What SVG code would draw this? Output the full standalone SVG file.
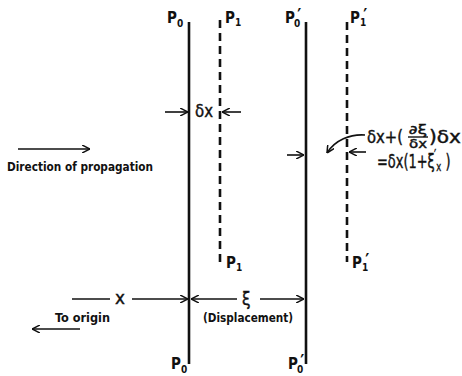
<svg xmlns="http://www.w3.org/2000/svg" width="462" height="376" viewBox="0 0 462 376">
<defs>
<marker id="ah" viewBox="0 0 10 10" refX="10" refY="5" markerWidth="8" markerHeight="8" orient="auto-start-reverse" markerUnits="userSpaceOnUse">
<path d="M0,0 L10,5 L0,10" fill="none" stroke="#111" stroke-width="1.9"/>
</marker>
</defs>
<style>
.solid{stroke:#111;stroke-width:2.6;fill:none}
.dash{stroke:#111;stroke-width:2.6;fill:none;stroke-dasharray:8 5}
.conn{stroke:#111;stroke-width:1.6;fill:none}
text{font-family:"DejaVu Sans Condensed","DejaVu Sans",sans-serif;fill:#111}
.lbl{font-size:15px;font-weight:bold}
.sub{font-size:10px;font-weight:bold}
.pr{font-size:17px;font-weight:bold}
.sm{font-size:12px;font-weight:bold}
.math{font-size:17px;stroke:#111;stroke-width:0.4}
.frac{font-size:12px;stroke:#111;stroke-width:0.4}
</style>
<rect width="462" height="376" fill="#fff"/>

<g id="plane-P0">
<line class="solid" x1="189" y1="22" x2="189" y2="364"/>
<text class="lbl" x="167" y="23">P<tspan class="sub" dy="4">0</tspan></text>
<text class="lbl" x="171" y="369">P<tspan class="sub" dy="4">0</tspan></text>
</g>
<g id="plane-P1">
<line class="dash" x1="220" y1="20" x2="220" y2="262"/>
<text class="lbl" x="225" y="23">P<tspan class="sub" dy="3">1</tspan></text>
<text class="lbl" x="226" y="268">P<tspan class="sub" dy="3">1</tspan></text>
</g>
<g id="plane-P0prime">
<line class="solid" x1="306" y1="22" x2="306" y2="364"/>
<text class="lbl" x="285" y="23">P<tspan class="sub" dx="-1" dy="4">0</tspan><tspan class="pr" dx="-3" dy="-6">′</tspan></text>
<text class="lbl" x="288" y="369">P<tspan class="sub" dx="-1" dy="4">0</tspan><tspan class="pr" dx="-3" dy="-6">′</tspan></text>
</g>
<g id="plane-P1prime">
<line class="dash" x1="347" y1="22" x2="347" y2="262"/>
<text class="lbl" x="350" y="23">P<tspan class="sub" dy="3">1</tspan><tspan class="pr" dx="-3" dy="-5">′</tspan></text>
<text class="lbl" x="352" y="268">P<tspan class="sub" dy="3">1</tspan><tspan class="pr" dx="-3" dy="-5">′</tspan></text>
</g>

<g id="connectors">
<line class="conn" x1="165" y1="112" x2="188" y2="112" marker-end="url(#ah)"/>
<line class="conn" x1="241" y1="112" x2="222" y2="112" marker-end="url(#ah)"/>
<line class="conn" x1="18" y1="149" x2="90" y2="149" marker-end="url(#ah)"/>
<line class="conn" x1="287" y1="155" x2="304" y2="155" marker-end="url(#ah)"/>
<line class="conn" x1="366" y1="152" x2="349" y2="152" marker-end="url(#ah)"/>
<path class="conn" d="M365,135 C350,134 335,140 327,153" marker-end="url(#ah)"/>
<line class="conn" x1="72" y1="299" x2="110" y2="299"/>
<line class="conn" x1="132" y1="299" x2="188" y2="299" marker-end="url(#ah)"/>
<line class="conn" x1="237" y1="299" x2="191" y2="299" marker-end="url(#ah)"/>
<line class="conn" x1="260" y1="299" x2="304" y2="299" marker-end="url(#ah)"/>
<line class="conn" x1="80" y1="329" x2="32" y2="329" marker-end="url(#ah)"/>
</g>

<g id="labels">
<text class="math" x="195" y="117" textLength="18" lengthAdjust="spacingAndGlyphs">δx</text>
<text class="math" x="367" y="143" textLength="36" lengthAdjust="spacingAndGlyphs">δx+(</text>
<text class="frac" x="409" y="134" textLength="18" lengthAdjust="spacingAndGlyphs">∂ξ</text>
<line x1="408" y1="137" x2="428" y2="137" stroke="#111" stroke-width="1.4"/>
<text class="frac" x="409" y="148" textLength="18" lengthAdjust="spacingAndGlyphs">δx</text>
<text class="math" x="429" y="143" textLength="32" lengthAdjust="spacingAndGlyphs">)δx</text>
<text class="math" transform="translate(377,168) scale(0.72,1)" style="font-size:20px">=δx(1+ξ<tspan style="font-size:15px" dx="-1" dy="-7">′</tspan><tspan style="font-size:13px" dx="0" dy="10">x</tspan><tspan dx="6" dy="-3">)</tspan></text>
<text class="sm" x="7" y="171" textLength="146" lengthAdjust="spacingAndGlyphs">Direction of propagation</text>
<text class="math" x="115" y="304" textLength="10" lengthAdjust="spacingAndGlyphs">x</text>
<text class="math" x="242" y="305">ξ</text>
<text class="sm" x="203" y="322" textLength="90" lengthAdjust="spacingAndGlyphs">(Displacement)</text>
<text class="sm" x="55" y="322" textLength="55" lengthAdjust="spacingAndGlyphs">To origin</text>
</g>
</svg>
